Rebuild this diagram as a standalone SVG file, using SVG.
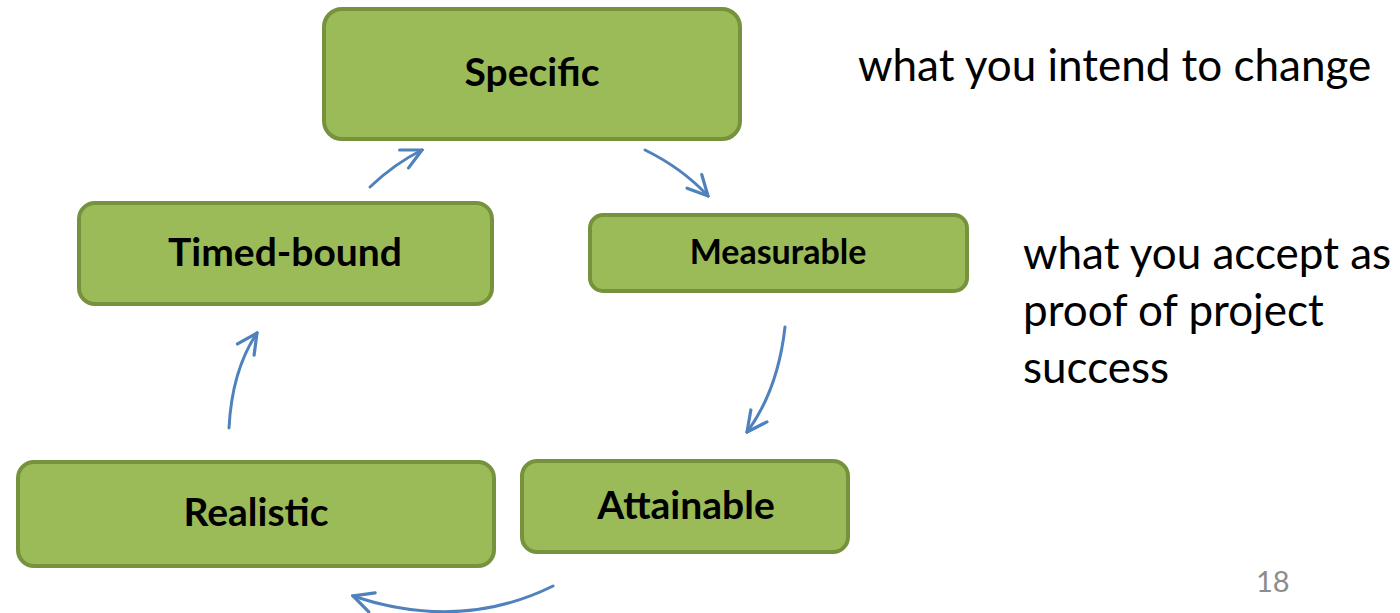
<svg xmlns="http://www.w3.org/2000/svg" width="1400" height="613" viewBox="0 0 1400 613">
<defs>
<style>
.box{fill:#9BBB59;stroke:#76923C;stroke-width:4}
.lbl{font-family:Lato,"Open Sans","Liberation Sans",sans-serif;font-weight:bold;fill:#000;text-anchor:middle}
.note{font-family:Lato,"Open Sans","Liberation Sans",sans-serif;font-size:44px;fill:#000}
.conn{fill:none;stroke:#4F81BD;stroke-width:3;stroke-linecap:round}
</style>
<marker id="ah" viewBox="0 0 12 12" refX="11" refY="6" markerWidth="24" markerHeight="24" markerUnits="userSpaceOnUse" orient="auto">
<path d="M1,1 L11,6 L1,11" fill="none" stroke="#4F81BD" stroke-width="1.6" stroke-linecap="round"/>
</marker>
</defs>
<rect width="1400" height="613" fill="#fff"/>
<g id="specific"><rect class="box" x="324" y="9" width="416" height="130" rx="18"/><text class="lbl" x="532" y="86" font-size="39">Specific</text></g>
<g id="timed-bound"><rect class="box" x="79" y="203" width="413" height="101" rx="16"/><text class="lbl" x="285" y="266" font-size="39">Timed-bound</text></g>
<g id="measurable"><rect class="box" x="590" y="215" width="377" height="76" rx="13"/><text class="lbl" x="778" y="264" font-size="34">Measurable</text></g>
<g id="realistic"><rect class="box" x="18" y="462" width="476" height="104" rx="16"/><text class="lbl" x="256" y="526" font-size="39">Realistic</text></g>
<g id="attainable"><rect class="box" x="522" y="461" width="326" height="91" rx="15"/><text class="lbl" x="686" y="519" font-size="39">Attainable</text></g>
<g id="connectors">
<path class="conn" marker-end="url(#ah)" d="M370,187 Q394,164 422,150"/>
<path class="conn" marker-end="url(#ah)" d="M645,150 Q682,168 708,196"/>
<path class="conn" marker-end="url(#ah)" d="M785,327 Q778,390 747,432"/>
<path class="conn" marker-end="url(#ah)" d="M553,586 Q460,632 353,596"/>
<path class="conn" marker-end="url(#ah)" d="M229,428 Q232,370 257,333"/>
</g>
<g id="notes">
<text class="note" x="858" y="81">what you intend to change</text>
<text class="note" x="1023" y="269">what you accept as</text>
<text class="note" x="1023" y="326">proof of project</text>
<text class="note" x="1023" y="383">success</text>
<text x="1256" y="592" font-family="Lato,'Open Sans','Liberation Sans',sans-serif" font-size="29" fill="#8C8C8C">18</text>
</g>
</svg>
